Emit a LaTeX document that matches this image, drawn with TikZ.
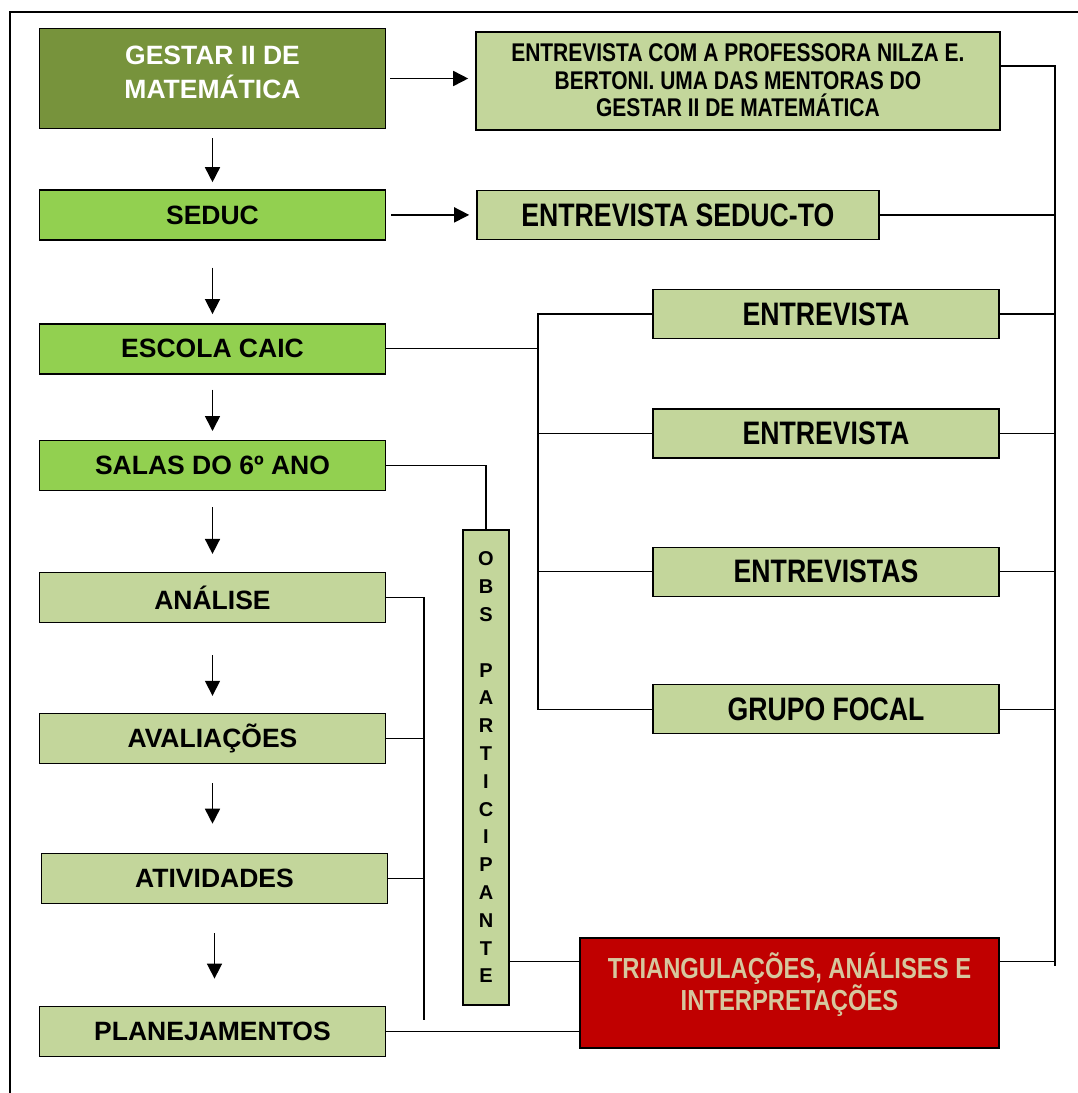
\documentclass[tikz,border=0pt]{standalone}
\usepackage{fontspec}
\setmainfont{Liberation Sans}
\newfontfamily\narrowfont{Liberation Sans}[FakeStretch=0.82]
\usetikzlibrary{arrows.meta,positioning}

\definecolor{olivedark}{RGB}{119,147,60}
\definecolor{greenlight}{RGB}{146,208,80}
\definecolor{olivepale}{RGB}{195,214,155}
\definecolor{redbox}{RGB}{192,0,0}
\definecolor{tantext}{RGB}{214,199,158}

\begin{document}
\begin{tikzpicture}[
        x=1pt, y=-1pt,
        box/.style={draw, line width=1.4pt, minimum width=346pt, minimum height=50pt, inner sep=0pt,
            align=center, font=\bfseries\fontsize{26.5}{33}\selectfont},
        stage/.style={box, fill=greenlight},
        phase/.style={box, fill=olivepale},
        interview/.style={box, fill=olivepale, font=\narrowfont\bfseries\fontsize{32.5}{34}\selectfont},
        arr/.style={line width=1.6pt, -{Triangle[length=15pt,width=15pt]}},
        link/.style={line width=1.2pt}
    ]
    \useasboundingbox (0,0) rectangle (1078,1093);

    % frame
    \draw[line width=1.5pt] (10,1093) -- (10,12) -- (1078,12);

    % left column
    \node (gestar) [box, fill=olivedark, minimum height=100pt, text=white] at (212.5,78.5)
        {GESTAR II DE\\[1pt]MATEMÁTICA\\[-21pt]\mbox{}};
    \node (seduc) [stage, below=60pt of gestar] {SEDUC};
    \node (escola) [stage, below=82.5pt of seduc] {ESCOLA CAIC};
    \node (salas) [stage, below=65.5pt of escola] {SALAS DO 6º ANO};
    \node (analise) [phase, below=80.5pt of salas] {ANÁLISE};
    \node (aval) [phase, below=89.5pt of analise] {AVALIAÇÕES};
    \node (ativ) [phase, below=88.5pt of aval, xshift=2pt] {ATIVIDADES};
    \node (plan) [phase, below=101.5pt of ativ, xshift=-2pt] {PLANEJAMENTOS};

    % right column
    \node (prof) [interview, right=89pt of gestar, yshift=-2.5pt, minimum width=524pt, minimum height=98pt,
        font=\narrowfont\bfseries\fontsize{25.6}{27.5}\selectfont]
        {ENTREVISTA COM A PROFESSORA NILZA E.\\BERTONI. UMA DAS MENTORAS DO\\GESTAR II DE MATEMÁTICA\\[-26pt]\mbox{}};
    \node (sedto) [interview, right=90pt of seduc, minimum width=402pt, minimum height=49pt] {ENTREVISTA SEDUC-TO};
    \node (e1) [interview, minimum height=49pt] at (826,314) {ENTREVISTA};
    \node (e2) [interview, minimum height=49pt, below=69pt of e1] {ENTREVISTA};
    \node (e3) [interview, minimum height=49pt, below=88pt of e2] {ENTREVISTAS};
    \node (e4) [interview, minimum height=49pt, below=87pt of e3] {GRUPO FOCAL};

    \node (obs) [phase, minimum width=46pt, minimum height=475pt, font=\bfseries\fontsize{20}{27.8}\selectfont]
        at (486,767.5) {O\\B\\S\\\mbox{}\\P\\A\\R\\T\\I\\C\\I\\P\\A\\N\\T\\E};
    \node (tri) [box, fill=redbox, minimum width=419pt, minimum height=110pt, text=tantext,
        font=\narrowfont\bfseries\fontsize{29}{27}\selectfont]
        at (789.5,993) {TRIANGULAÇÕES, ANÁLISES E\\INTERPRETAÇÕES\\[-4pt]\mbox{}};

    % bus points
    \coordinate (rbus) at (1055,66);
    \coordinate (rbusend) at (1055,966);
    \coordinate (lbus) at (538,315);
    \coordinate (brk) at (424,1020);
    \coordinate (trein) at ([yshift=-24pt]tri.north west);
    \coordinate (treout) at ([yshift=-24pt]tri.north east);

    % arrows
    \draw[arr, shorten <=9pt, shorten >=7pt] (gestar) -- (seduc);
    \draw[arr, shorten <=27pt, shorten >=9pt] (seduc) -- (escola);
    \draw[arr, shorten <=15pt, shorten >=9pt] (escola) -- (salas);
    \draw[arr, shorten <=16pt, shorten >=18pt] (salas) -- (analise);
    \draw[arr, shorten <=32pt, shorten >=17pt] (analise) -- (aval);
    \draw[arr, shorten <=19pt, shorten >=29pt] (aval.south) -- (aval.south |- ativ.north);
    \draw[arr, shorten <=29pt, shorten >=27pt] (ativ.south) -- (ativ.south |- plan.north);
    \draw[arr, shorten <=4pt, shorten >=7pt] (gestar.east) -- (gestar.east -| prof.west);
    \draw[arr, shorten <=5pt, shorten >=7pt] (seduc.east) -- (seduc.east -| sedto.west);

    % connectors
    \draw[link] (prof.east |- rbus) -- (rbus) -- (rbusend);
    \draw[link] (sedto.east) -- (sedto.east -| rbus);
    \foreach \n in {e1,e2,e3,e4}
        \draw[link] (\n.east) -- (\n.east -| rbus);
    \draw[link] (treout) -- (treout -| rbus);

    \draw[link] (escola.east) -- (escola.east -| lbus);
    \draw[link] (e1.west) -| (e4.west -| lbus) -- (e4.west);
    \draw[link] (e2.west) -- (e2.west -| lbus);
    \draw[link] (e3.west) -- (e3.west -| lbus);

    \draw[link] (salas.east) -| (obs.north);
    \draw[link] (obs.east |- trein) -- (trein);
    \draw[link] (plan.east) -- (plan.east -| tri.west);

    \draw[link] (analise.east) -| (brk);
    \draw[link] (aval.east) -- (aval.east -| brk);
    \draw[link] (ativ.east) -- (ativ.east -| brk);

\end{tikzpicture}
\end{document}
